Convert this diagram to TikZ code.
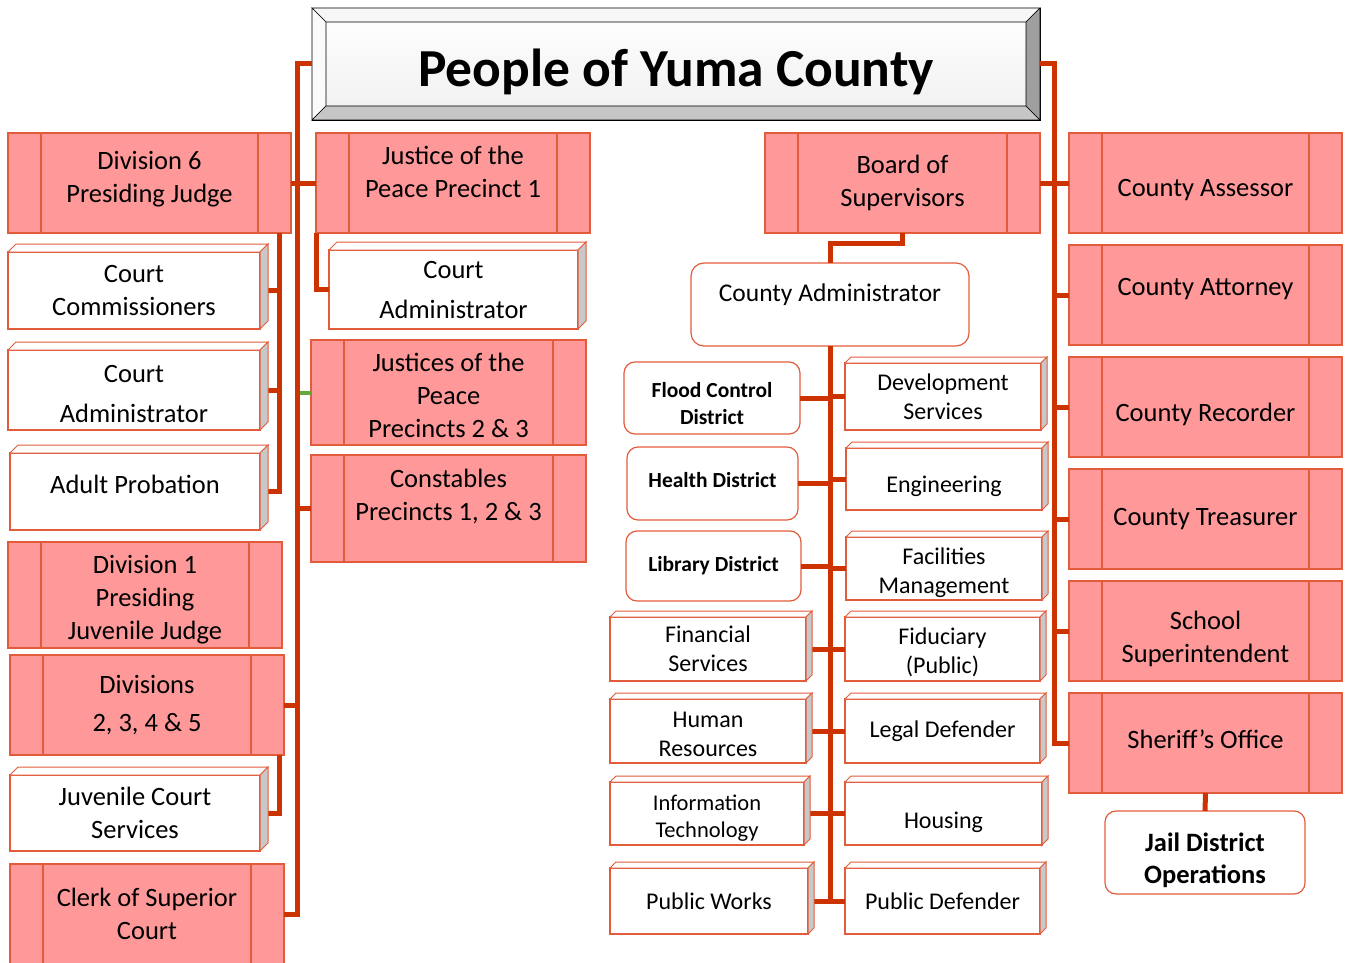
\documentclass[tikz,border=0pt]{standalone}
\usepackage{fontspec}
\setmainfont{Carlito}
\usepackage{tikz}
\usetikzlibrary{calc}
\definecolor{linkred}{RGB}{204,51,0}
\definecolor{linkgreen}{RGB}{98,170,58}
\definecolor{boxline}{RGB}{226,92,60}
\definecolor{officefill}{RGB}{255,153,153}
\definecolor{sidegray}{RGB}{200,200,200}
\newcommand{\slab}[2][8]{%
	\filldraw[boxline, fill=white, line width=1pt] (#2.north west) -- ++(#1pt,#1pt) -- ([shift={(#1pt,#1pt)}]#2.north east) -- (#2.north east) -- cycle;
	\filldraw[boxline, fill=sidegray, line width=1pt] (#2.north east) -- ++(#1pt,#1pt) -- ([shift={(#1pt,#1pt)}]#2.south east) -- (#2.south east) -- cycle;}
% nudge a label down (first line) or up (last line)
\newcommand{\lowertext}[2]{\raisebox{0pt}[\dimexpr\height+#1*2\relax]{#2}}
\newcommand{\raisetext}[2]{\raisebox{0pt}[\height][\dimexpr\depth+#1*2\relax]{#2}}

\begin{document}
\begin{tikzpicture}[x=1pt, y=-1pt,
	link/.style={linkred, line width=5pt},
	office/.style={draw=boxline, fill=officefill, line width=1.5pt, outer sep=0pt, inner sep=0pt, align=center,
		font=\fontsize{26.5}{33}\selectfont,
		path picture={\draw[boxline, line width=1.2pt]
			([xshift=33pt]path picture bounding box.north west) -- ([xshift=33pt]path picture bounding box.south west)
			([xshift=-33pt]path picture bounding box.north east) -- ([xshift=-33pt]path picture bounding box.south east);}},
	dept/.style={draw=boxline, fill=white, line width=1.5pt, outer sep=0pt, inner sep=0pt, align=center,
		font=\fontsize{26.5}{33}\selectfont},
	unit/.style={dept, font=\fontsize{24}{29}\selectfont},
	district/.style={draw=boxline, fill=white, line width=1.2pt, rounded corners=11pt, outer sep=0pt, inner sep=0pt, align=center,
		font=\fontsize{21.5}{27}\selectfont\bfseries}]
	\useasboundingbox (0,0) rectangle (1346,963);

	% title
	\node[draw=black, line width=0.8pt, top color=white, bottom color=gray!12, minimum width=728, minimum height=112, outer sep=0pt,
		font=\fontsize{53.5}{60}\selectfont\bfseries] (people) at (676,64) {\lowertext{8pt}{People of Yuma County}};
	\filldraw[black, line width=0.6pt, fill=gray!6] (people.north west) -- (people.north east) -- ([shift={(-14pt,-14pt)}]people.north east) -- ([shift={(14pt,-14pt)}]people.north west) -- cycle;
	\filldraw[black, line width=0.6pt, fill=gray!4] (people.north west) -- ([shift={(14pt,-14pt)}]people.north west) -- ([shift={(14pt,14pt)}]people.south west) -- (people.south west) -- cycle;
	\filldraw[black, line width=0.6pt, fill=gray!45] (people.south west) -- (people.south east) -- ([shift={(-14pt,14pt)}]people.south east) -- ([shift={(14pt,14pt)}]people.south west) -- cycle;
	\filldraw[black, line width=0.6pt, fill=gray!75] (people.north east) -- ([shift={(-14pt,-14pt)}]people.north east) -- ([shift={(-14pt,14pt)}]people.south east) -- (people.south east) -- cycle;

	% superior court
	\node[office, minimum width=283, minimum height=100] (div6) at (149.5,183) {Division 6\\\raisetext{4pt}{Presiding Judge}};
	\node[dept, minimum width=252, minimum height=77] (commis) at (134,290.5) {Court\\Commissioners};
	\node[dept, minimum width=252, minimum height=80] (cadm1) at (134,390) {\lowertext{4pt}{Court}\\[7pt]Administrator};
	\node[dept, minimum width=250, minimum height=77] (probat) at (135,491.5) {\raisetext{7pt}{Adult Probation}};
	\node[office, minimum width=274, minimum height=106] (div1) at (145,595) {\lowertext{5pt}{Division 1}\\Presiding\\Juvenile Judge};
	\node[office, minimum width=274, minimum height=100] (div25) at (147,705) {Divisions\\[5pt]2, 3, 4 \& 5};
	\node[dept, minimum width=250, minimum height=76] (juvsvc) at (135,813) {Juvenile Court\\Services};
	\node[office, minimum width=274, minimum height=100] (clerk) at (147,914) {Clerk of Superior\\Court};

	% justice courts
	\node[office, minimum width=274, minimum height=100] (jp1) at (453,183) {Justice of the\\\raisetext{11pt}{Peace Precinct 1}};
	\node[dept, minimum width=249, minimum height=79] (cadm2) at (453.5,289.5) {Court\\[7pt]Administrator};
	\node[office, minimum width=275, minimum height=105] (jp23) at (448.5,392.5) {\lowertext{3pt}{Justices of the}\\Peace\\Precincts 2 \& 3};
	\node[office, minimum width=275, minimum height=107] (cons) at (448.5,508.5) {Constables\\\raisetext{12pt}{Precincts 1, 2 \& 3}};

	% board and administration
	\node[office, minimum width=275, minimum height=100] (bos) at (902.5,183) {Board of\\Supervisors};
	\node[district, rounded corners=13pt, font=\fontsize{25.5}{31}\selectfont, minimum width=278, minimum height=83] (cadmin) at (830,304.5) {\raisetext{10pt}{County Administrator}};
	\node[district, minimum width=176, minimum height=72] (flood) at (712,398) {\lowertext{6pt}{Flood Control}\\District};
	\node[district, minimum width=171, minimum height=73] (health) at (712.5,483.5) {\raisetext{3pt}{Health District}};
	\node[district, minimum width=175, minimum height=70] (library) at (713.5,566) {Library District};
	\node[unit, minimum width=196, minimum height=64] (finance) at (708,649) {Financial\\Services};
	\node[unit, minimum width=196, minimum height=64] (human) at (708,731) {\lowertext{3pt}{Human}\\Resources};
	\node[unit, font=\fontsize{22.5}{27}\selectfont, minimum width=194, minimum height=63] (infotech) at (707,813.5) {\lowertext{5pt}{Information}\\Technology};
	\node[unit, minimum width=198, minimum height=66] (pubworks) at (709,901) {Public Works};
	\node[unit, minimum width=196, minimum height=67] (devsvc) at (943,396.5) {Development\\Services};
	\node[unit, minimum width=196, minimum height=62] (engin) at (944,479) {\lowertext{7pt}{Engineering}};
	\node[unit, minimum width=196, minimum height=63] (facil) at (944,568.5) {\lowertext{4pt}{Facilities}\\Management};
	\node[unit, minimum width=195, minimum height=64] (fiduc) at (942.5,649) {\lowertext{3pt}{Fiduciary}\\(Public)};
	\node[unit, minimum width=195, minimum height=64] (legal) at (942.5,731) {Legal Defender};
	\node[unit, minimum width=197, minimum height=63] (housing) at (943.5,813.5) {\lowertext{9pt}{Housing}};
	\node[unit, minimum width=195, minimum height=66] (pubdef) at (942.5,901) {Public Defender};

	% elected offices
	\node[office, minimum width=273, minimum height=100] (assessor) at (1205.5,183) {\lowertext{7pt}{County Assessor}};
	\node[office, minimum width=273, minimum height=100] (attorney) at (1205.5,295) {\raisetext{6pt}{County Attorney}};
	\node[office, minimum width=273, minimum height=100] (recorder) at (1205.5,407) {\lowertext{7pt}{County Recorder}};
	\node[office, minimum width=273, minimum height=100] (treasurer) at (1205.5,519) {County Treasurer};
	\node[office, minimum width=273, minimum height=100] (school) at (1205.5,631) {\lowertext{8pt}{School}\\Superintendent};
	\node[office, minimum width=273, minimum height=100] (sheriff) at (1205.5,743) {\raisetext{4pt}{Sheriff’s Office}};
	\node[district, font=\fontsize{26.5}{32}\selectfont\bfseries, minimum width=200, minimum height=83] (jail) at (1205,852.5) {\lowertext{8pt}{Jail District}\\Operations};

	% connectors, left side
	\coordinate (ltrunk) at (297,914);
	\coordinate (dsub) at (279,233);
	\draw[linkgreen, line width=4pt] (jp23.west) -- (jp23.west -| ltrunk);
	\draw[link] (people.west) -| (ltrunk) -- (clerk.east);
	\draw[link] (div6.east) -- (jp1.west);
	\draw[link] (div25.east) -- (div25.east -| ltrunk);
	\draw[link] (cons.west) -- (cons.west -| ltrunk);
	\draw[link] (dsub) |- (probat.east);
	\draw[link] (commis.east) -- (commis.east -| dsub);
	\draw[link] (cadm1.east) -- (cadm1.east -| dsub);
	\draw[link] (div25.south -| dsub) |- (juvsvc.east);
	\draw[link] (jp1.south west) |- (cadm2.west);

	% connectors, middle
	\draw[link] (bos.south) -- ++(0pt,-10pt) -| (cadmin.north);
	\draw[link] (cadmin.south) -- (cadmin.south |- pubdef.west);
	\foreach \n in {flood,health,library,finance,human,infotech,pubworks}
		\draw[link] (\n.east) -- (\n.east -| cadmin.south);
	\foreach \n in {devsvc,engin,facil,fiduc,legal,housing,pubdef}
		\draw[link] (\n.west) -- (\n.west -| cadmin.south);

	% connectors, right side
	\coordinate (rtrunk) at (1054,743);
	\draw[link] (people.east) -| (rtrunk) -- (sheriff.west);
	\draw[link] (bos.east) -- (assessor.west);
	\foreach \n in {attorney,recorder,treasurer,school}
		\draw[link] (\n.west) -- (\n.west -| rtrunk);
	\draw[link] (sheriff.south) -- (jail.north);

	% box depth
	\foreach \n in {commis,cadm1,probat,juvsvc,cadm2}
		\slab{\n};
	\foreach \n in {finance,human,infotech,pubworks,devsvc,engin,facil,fiduc,legal,housing,pubdef}
		\slab[6]{\n};
\end{tikzpicture}
\end{document}
